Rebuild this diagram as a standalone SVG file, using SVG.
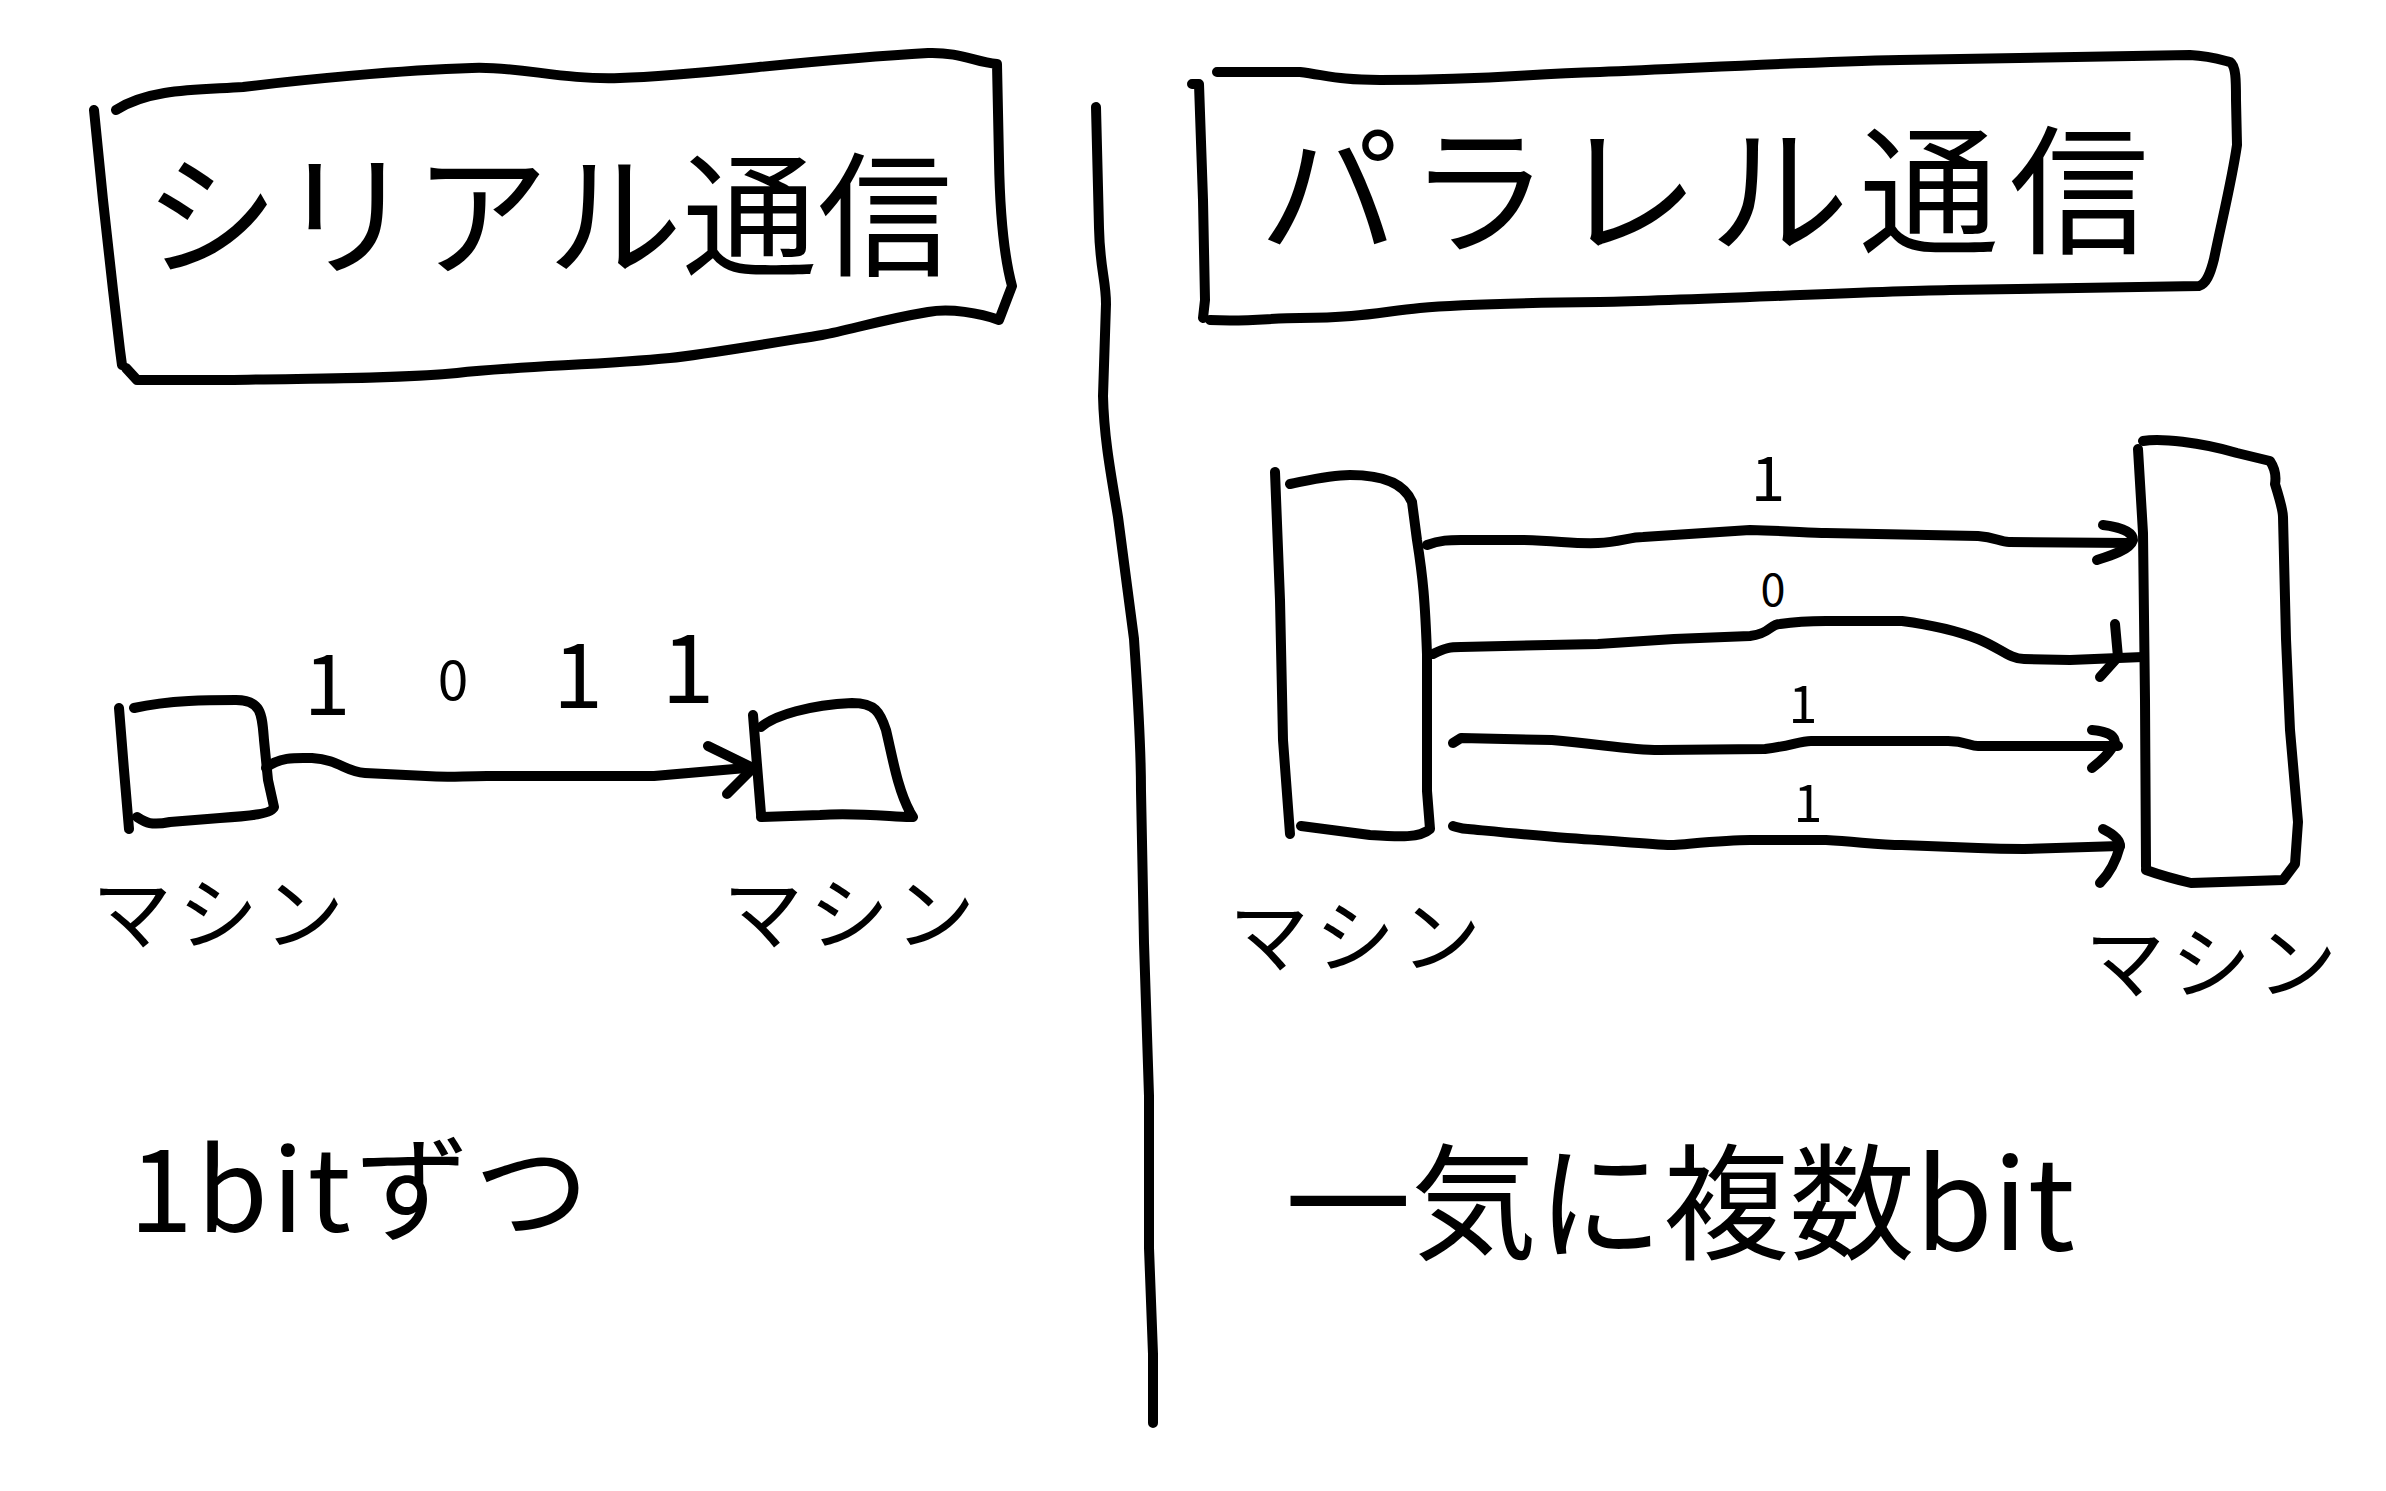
<svg xmlns="http://www.w3.org/2000/svg" width="2386" height="1491" viewBox="0 0 2386 1491">
<style>
.ln{fill:none;stroke:#000;stroke-width:10;stroke-linecap:round;stroke-linejoin:round}
.t{font-family:"Noto Sans CJK JP","Noto Sans",sans-serif;fill:#000;text-anchor:middle}
</style>
<rect width="2386" height="1491" fill="#fff"/>
<g id="title-serial">
<path class="ln" d="M94,110 L103,200 L113,290 L120,350 L122,365"/>
<path class="ln" d="M116,110 C150,88 200,90 243,87 C300,80 400,70 472,68 C520,66 560,80 620,78 C700,76 800,60 928,53 C960,52 975,62 997,64 L999,160 C1000,220 1005,260 1012,286 L999,320 C980,313 950,308 928,312 C880,320 850,330 822,335 C760,345 700,355 670,358 C600,365 520,366 457,373 C380,380 300,378 228,380 L137,380 L126,368"/>
<text class="t" x="548" y="266" font-size="135">シリアル通信</text>
</g>
<g id="title-parallel">
<path class="ln" d="M1192,84 L1199,84 L1203,200 L1205,300 L1203,318"/>
<path class="ln" d="M1217,72 L1300,72 C1330,76 1340,80 1380,80 C1500,80 1520,74 1600,72 C1700,68 1800,62 1900,60 L2190,55 C2210,56 2222,60 2230,62 C2236,66 2236,80 2236,100 L2237,145 C2232,180 2222,220 2214,259 C2210,275 2206,284 2199,286 L1950,290 C1850,292 1700,300 1600,302 C1500,303 1450,305 1420,308 C1380,312 1360,318 1300,318 C1270,318 1250,322 1210,320"/>
<text class="t" x="1709" y="243" font-size="140" letter-spacing="10">パラレル通信</text>
</g>
<g id="divider">
<path class="ln" d="M1096,107 L1099,228 C1100,270 1106,280 1106,304 L1103,396 C1104,440 1112,480 1118,517 L1134,639 C1138,700 1141,740 1141,791 L1144,943 L1149,1096 L1149,1248 L1153,1354 L1153,1423"/>
</g>
<g id="machine-a">
<path class="ln" d="M119,708 L124,770 L129,829"/>
<path class="ln" d="M134,708 C170,700 210,700 236,700 C262,700 262,715 264,740 L268,780 L274,807 C272,814 250,816 220,818 L170,822 C150,826 145,822 137,817"/>
<text class="t" x="221" y="943" font-size="80" letter-spacing="6">マシン</text>
</g>
<g id="machine-b">
<path class="ln" d="M753,715 L757,765 L761,814"/>
<path class="ln" d="M761,727 C775,715 810,705 852,703 C875,703 880,712 886,730 C893,760 898,790 910,812 L913,817 C900,818 860,812 820,815 L761,817"/>
<text class="t" x="852" y="943" font-size="80" letter-spacing="6">マシン</text>
</g>
<g id="machine-c">
<path class="ln" d="M1275,472 L1280,600 L1283,740 L1290,834"/>
<path class="ln" d="M1290,484 C1310,480 1330,475 1350,475 C1385,475 1405,485 1412,502 L1417,540 C1423,578 1425,600 1427,654 L1427,791 L1430,829 C1420,838 1400,837 1370,835 L1301,826"/>
<text class="t" x="1358" y="966" font-size="80" letter-spacing="6">マシン</text>
</g>
<g id="machine-d">
<path class="ln" d="M2138,449 L2143,533 L2145,700 L2146,867"/>
<path class="ln" d="M2143,441 C2160,438 2200,442 2237,453 L2270,461 C2276,470 2276,478 2275,484 C2280,500 2283,510 2283,517 L2286,639 L2290,730 L2298,822 L2295,864 L2283,880 L2191,883 C2170,878 2160,875 2146,870"/>
<text class="t" x="2214" y="992" font-size="80" letter-spacing="6">マシン</text>
</g>
<g id="connectors">
<path class="ln" d="M266,768 C280,756 300,758 312,758 C340,760 345,772 365,773 L426,776 C450,778 460,776 487,776 L654,776 L746,768"/>
<path class="ln" d="M708,746 L753,768 L727,794"/>
<path class="ln" d="M1427,545 C1440,540 1450,540 1461,540 L1522,540 C1560,541 1575,544 1598,543 C1620,542 1630,537 1643,537 L1750,530 C1790,531 1810,533 1826,533 L1978,536 C1995,537 2000,542 2009,542 L2130,543"/>
<path class="ln" d="M2103,525 C2120,527 2133,532 2133,540 C2130,550 2110,556 2097,560"/>
<path class="ln" d="M1433,654 C1445,648 1450,647 1461,647 L1598,644 L1674,639 L1750,636 C1770,634 1770,624 1780,624 C1800,621 1810,621 1826,621 L1902,621 C1940,626 1960,632 1978,639 C2000,648 2010,659 2024,659 L2070,660 L2143,657"/>
<path class="ln" d="M2115,624 L2118,657 L2100,677"/>
<path class="ln" d="M1453,743 L1461,738 L1552,740 C1600,744 1630,750 1659,750 L1765,749 C1790,746 1800,741 1811,741 L1902,741 L1948,741 C1965,741 1970,746 1978,746 L2118,746"/>
<path class="ln" d="M2092,730 C2105,731 2115,735 2115,743 C2110,752 2100,762 2092,768"/>
<path class="ln" d="M1453,826 C1460,828 1462,829 1468,829 C1510,833 1560,838 1598,840 C1640,843 1660,845 1674,845 C1710,842 1730,840 1750,840 L1826,840 C1860,842 1880,845 1902,845 L1978,848 C2000,849 2010,849 2024,849 L2120,846"/>
<path class="ln" d="M2103,829 C2115,835 2120,840 2120,846 C2115,865 2108,875 2100,883"/>
</g>
<g id="bit-labels">
<text class="t" x="327" y="715" font-size="84">1</text>
<text class="t" x="453" y="700" font-size="55">0</text>
<text class="t" x="578" y="708" font-size="90">1</text>
<text class="t" x="688" y="703" font-size="96">1</text>
<text class="t" x="1768" y="501" font-size="62">1</text>
<text class="t" x="1773" y="606" font-size="45">0</text>
<text class="t" x="1803" y="723" font-size="52">1</text>
<text class="t" x="1808" y="822" font-size="52">1</text>
</g>
<g id="captions">
<text class="t" x="361" y="1232" font-size="115" letter-spacing="4">1bitずつ</text>
<text class="t" x="1680" y="1250" font-size="126">一気に複数bit</text>
</g>
</svg>
